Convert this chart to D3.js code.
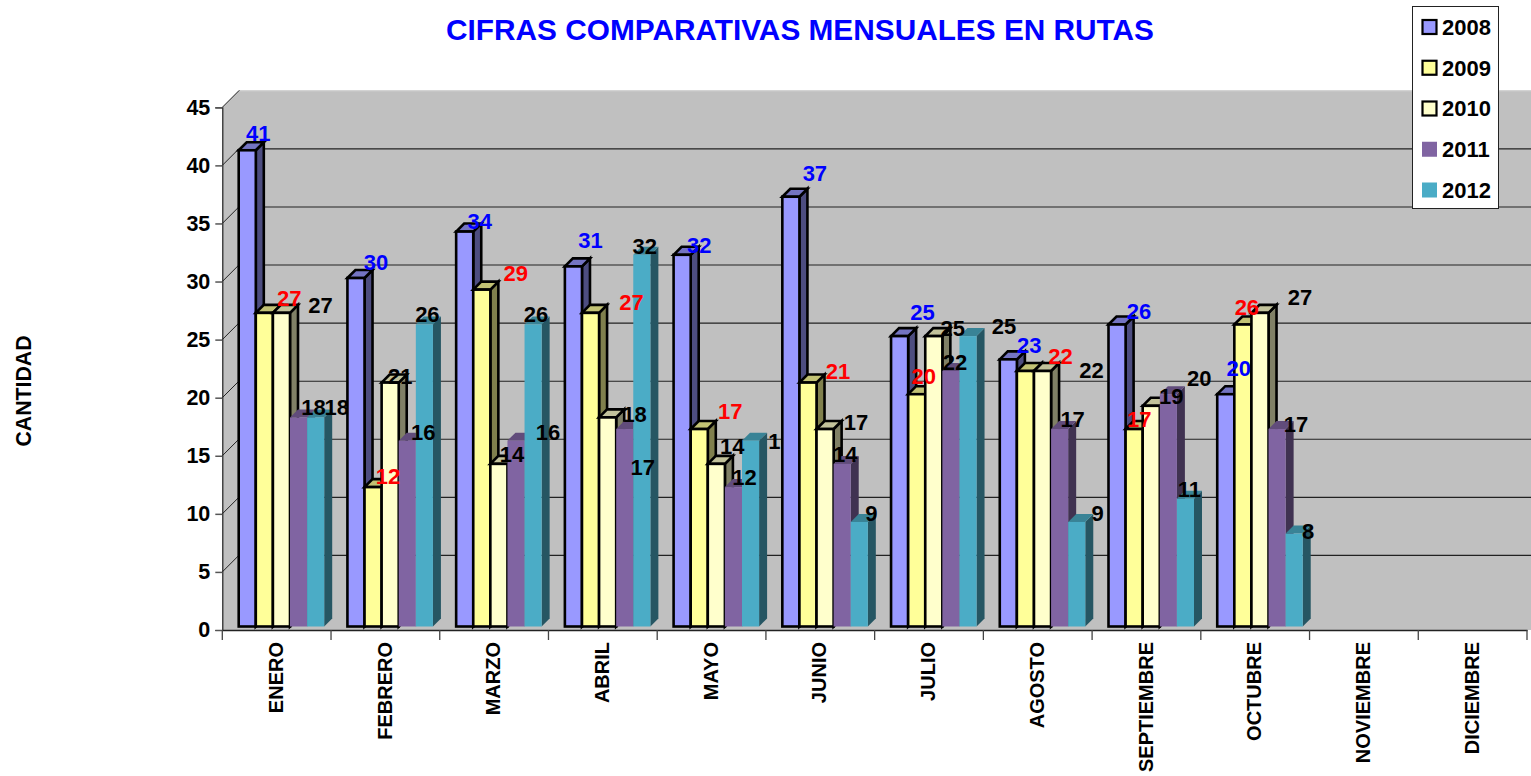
<!DOCTYPE html>
<html><head><meta charset="utf-8">
<script src="https://cdnjs.cloudflare.com/ajax/libs/d3/7.8.5/d3.min.js"></script>
<style>html,body{margin:0;padding:0;background:#fff;overflow:hidden}svg{display:block;font-family:"Liberation Sans",Arial,sans-serif;font-weight:bold}</style>
</head><body><svg id="c" width="1531" height="776"></svg>
<script>
const months=["ENERO","FEBRERO","MARZO","ABRIL","MAYO","JUNIO","JULIO","AGOSTO","SEPTIEMBRE","OCTUBRE","NOVIEMBRE","DICIEMBRE"];
const years=["2008","2009","2010","2011","2012"];
const v2008=[41,30,34,31,32,37,25,23,26,20];
const v2009=[27,12,29,27,17,21,20,22,17,26];
const v2010=[27,21,14,18,14,17,25,22,19,27];
const v2011=[18,16,16,17,12,14,22,17,20,17];
const v2012=[18,26,26,32,16,9,25,9,11,8];
const yTicks=[0,5,10,15,20,25,30,35,40,45];
const seriesValues=[v2008,v2009,v2010,v2011,v2012];

// styling / layout, separate from the data
const fills=["#9999FF","#FFFF99","#FFFFCC","#8064A2","#4BACC6"];
const outlined=[true,true,true,false,false];
const labelColors=["#0000FF","#FF0000","#000","#000","#000"];
const labelNudge=[
 [[11,-17],[20,-16],[15,-10],[17,-26],[17,-10],[24,-24],[23,-24],[21,-14],[22,-13],[13,-26]],
 [[25,-15],[15,-11],[34,-17],[41,-11],[31,-18],[30,-11],[7,-18],[35,-15],[5,-10],[4,-17]],
 [[39,-8],[10,-6],[13,-10],[27,-3],[16,-18],[31,-7],[19,-8],[49,-1],[20,-10],[40,-16]],
 [[15,-10],[16,-9],[32,-9],[18,38],[11,-10],[3,-10],[4,-9],[13,-10],[31,-16],[19,-5]],
 [[21,-10],[3,-10],[3,-10],[3,-9],[30,0],[12,-9],[36,-10],[21,-9],[4,-10],[14,-2]]
];
const wall=17, depth=8, barW=17.1, barInset=16.4, barLift=3.5;
const shade=(hex,k)=>{const c=d3.rgb(hex);return d3.rgb(c.r*k,c.g*k,c.b*k).formatHex();};

const svg=d3.select("#c");
const x=d3.scaleBand().domain(months).range([222.3,1527]);
const y=d3.scaleLinear().domain([0,45]).range([630,107.3]);

// back wall and floor
const L=222.3,R=1531;
svg.append("polygon").attr("fill","#C0C0C0")
  .attr("points",[[L,y(0)],[L,y(45)],[L+wall,y(45)-wall],[R,y(45)-wall],[R,y(0)]].join(" "));
svg.append("line").attr("x1",L+wall).attr("x2",R).attr("y1",y(45)-wall+.5).attr("y2",y(45)-wall+.5).attr("stroke","#d4d4d4");

// gridlines and the wall's diagonal ticks
const grid=svg.append("g");
yTicks.filter(t=>t>0).forEach(t=>{
  grid.append("line").attr("x1",L+wall).attr("x2",R).attr("y1",y(t)-wall+.5).attr("y2",y(t)-wall+.5)
    .attr("stroke",t==45?"none":"#222").attr("stroke-width",1.1);
  grid.append("line").attr("x1",L).attr("y1",y(t)).attr("x2",L+wall).attr("y2",y(t)-wall)
    .attr("stroke","#222").attr("stroke-width",1);
});

// axes
const ya=svg.append("g").attr("transform",`translate(${L},0)`)
  .call(d3.axisLeft(y).tickValues(yTicks).tickSize(7).tickPadding(5));
ya.selectAll("text").style("font-size","21.5px").style("font-weight","bold").style("font-family","inherit").attr("fill","#000");
ya.selectAll(".tick line").attr("stroke","#555").attr("stroke-width",1.5);
ya.select(".domain").attr("stroke","#222").attr("stroke-width",1.2);

const xa=svg.append("g").attr("transform",`translate(0,${y(0)})`)
  .call(d3.axisBottom(x).tickValues([]).tickSize(0));
xa.select(".domain").attr("stroke","#222").attr("stroke-width",1.4);
const tickPos=d3.range(months.length+1).map(i=>x.range()[0]+i*x.step());
svg.append("g").selectAll("line").data(tickPos).join("line")
  .attr("x1",d=>d).attr("x2",d=>d).attr("y1",y(0)).attr("y2",y(0)+10).attr("stroke","#444").attr("stroke-width",1.3);
svg.append("g").selectAll("text").data(months).join("text")
  .attr("transform",d=>`translate(${x(d)+x.step()/2-1},642) rotate(-90)`)
  .attr("text-anchor","end").attr("dy","0.36em").attr("font-size",20).text(d=>d);

// bars + labels, month by month so later months may overlap earlier labels
const base=y(0)-barLift;
months.forEach((m,c)=>{
  const g=svg.append("g");
  seriesValues.forEach((vals,s)=>{
    if(c>=vals.length) return;
    const v=vals[c], x0=x(m)+barInset+s*barW, x1=x0+barW, yt=y(v)-barLift;
    const stroke=outlined[s]?"#000":"none", sw=outlined[s]?2.6:0;
    const bar=g.append("g").attr("stroke",stroke).attr("stroke-width",sw).attr("stroke-linejoin","miter");
    bar.append("polygon").attr("fill",shade(fills[s],.5))
      .attr("points",[[x1,yt],[x1+depth,yt-depth],[x1+depth,base-depth],[x1,base]].join(" "));
    bar.append("polygon").attr("fill",shade(fills[s],.76))
      .attr("points",[[x0,yt],[x0+depth,yt-depth],[x1+depth,yt-depth],[x1,yt]].join(" "));
    bar.append("rect").attr("fill",fills[s]).attr("x",x0).attr("y",yt).attr("width",barW).attr("height",base-yt);
  });
  seriesValues.forEach((vals,s)=>{
    if(c>=vals.length) return;
    const v=vals[c], n=labelNudge[s][c];
    g.append("text").attr("x",x(m)+barInset+s*barW+barW/2+n[0]).attr("y",y(v)-barLift+n[1])
      .attr("dy","0.36em").attr("text-anchor","middle").attr("font-size",22)
      .attr("fill",labelColors[s]).text(v);
  });
});

// title and axis title
svg.append("text").attr("x",800).attr("y",40).attr("text-anchor","middle")
  .attr("font-size",29.8).attr("fill","#0000FF").text("CIFRAS COMPARATIVAS MENSUALES EN RUTAS");
svg.append("text").attr("transform","translate(23,391) rotate(-90)").attr("text-anchor","middle")
  .attr("dy","0.36em").attr("font-size",21.3).text("CANTIDAD");

// legend
const lg=svg.append("g");
lg.append("rect").attr("x",1412.5).attr("y",6.5).attr("width",86).attr("height",202).attr("fill","#fff").attr("stroke","#222").attr("stroke-width",1);
const ly=d3.scalePoint().domain(years).range([27,190]);
years.forEach((yr,i)=>{
  lg.append("rect").attr("x",outlined[i]?1422.5:1422).attr("y",ly(yr)-(outlined[i]?7:7.5)).attr("width",outlined[i]?14:15).attr("height",outlined[i]?14:15)
    .attr("fill",fills[i]).attr("stroke",outlined[i]?"#000":"none").attr("stroke-width",outlined[i]?2.2:0);
  lg.append("text").attr("x",1442).attr("y",ly(yr)).attr("dy","0.36em").attr("font-size",22).text(yr);
});
</script></body></html>
